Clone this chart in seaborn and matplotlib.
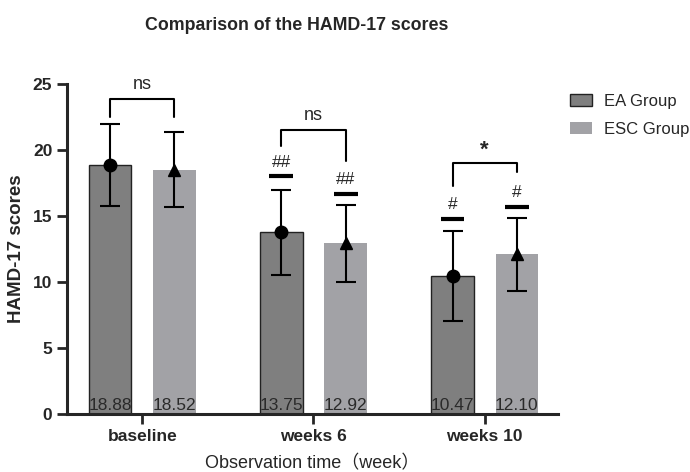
import pandas as pd
import matplotlib.pyplot as plt
import seaborn as sns
from matplotlib.patches import Patch

# HAMD-17 scores, mean and SD
timepoints = ['baseline', 'weeks 6', 'weeks 10']
groups = ['EA Group', 'ESC Group']
ea_mean = [18.88, 13.75, 10.47]
esc_mean = [18.52, 12.92, 12.10]
ea_sd = [3.10, 3.25, 3.40]
esc_sd = [2.85, 2.90, 2.75]

# within-group marks (#) : level of the short bar, label
ea_hash_y = [None, 18.0, 14.8]
esc_hash_y = [None, 16.7, 15.7]
ea_hash = ['', '##', '#']
esc_hash = ['', '##', '#']

# between-group brackets: top, left leg end, right leg end, label
br_top = [23.9, 21.5, 19.0]
br_left = [22.5, 20.3, 17.3]
br_right = [22.5, 19.2, 18.35]
br_text = ['ns', 'ns', '*']

colors = {'EA Group': '#7f7f7f', 'ESC Group': '#a2a2a6'}

df = pd.DataFrame({
    'time': timepoints * 2,
    'group': [groups[0]] * 3 + [groups[1]] * 3,
    'score': ea_mean + esc_mean,
})

sns.set_style('ticks')
plt.rcParams['font.family'] = ['Liberation Sans', 'Noto Sans CJK SC', 'DejaVu Sans']

fig = plt.figure(figsize=(6.9, 4.72), dpi=100)
ax = fig.add_axes([0.097, 0.123, 0.712, 0.699])

sns.barplot(data=df, x='time', y='score', hue='group', palette=colors,
            width=0.75, gap=0.34, errorbar=None, legend=False, ax=ax,
            saturation=1)

bars = ax.patches[:6]
for b in bars[:3]:
    b.set_edgecolor('#222222')
    b.set_linewidth(1.0)
for b in bars[3:]:
    b.set_edgecolor('none')

ea_x = [b.get_x() + b.get_width() / 2 for b in bars[:3]]
esc_x = [b.get_x() + b.get_width() / 2 for b in bars[3:]]

ax.errorbar(ea_x, ea_mean, yerr=ea_sd, fmt='o', color='black', ms=9,
            capsize=7, elinewidth=1.5, capthick=1.5, zorder=5)
ax.errorbar(esc_x, esc_mean, yerr=esc_sd, fmt='^', color='black', ms=9,
            capsize=7, elinewidth=1.5, capthick=1.5, zorder=5)

# value labels at the bottom of each bar
for x, v in zip(ea_x + esc_x, ea_mean + esc_mean):
    ax.text(x, 0.1, f'{v:.2f}', ha='center', va='bottom', fontsize=12.5,
            color='#2a2a2a', zorder=6)

# hash marks
for xs, ys, labels in [(ea_x, ea_hash_y, ea_hash), (esc_x, esc_hash_y, esc_hash)]:
    for x, y, lab in zip(xs, ys, labels):
        if y is None:
            continue
        ax.plot([x - 0.07, x + 0.07], [y, y], color='black', lw=3,
                solid_capstyle='butt', zorder=6)
        ax.text(x, y + 0.5, lab, ha='center', va='bottom', fontsize=12.5)

# brackets
for i in range(3):
    x1, x2 = ea_x[i], esc_x[i]
    ax.plot([x1, x1, x2, x2], [br_left[i], br_top[i], br_top[i], br_right[i]],
            color='black', lw=1.5, clip_on=False, zorder=6)
    star = br_text[i] == '*'
    ax.text((x1 + x2) / 2, br_top[i] + (0.2 if star else 0.45), br_text[i],
            ha='center', va='bottom', fontsize=16 if star else 13,
            fontweight='bold' if star else 'normal', clip_on=False)

ax.set_ylim(0, 25)
ax.set_xlim(-0.44, 2.43)
ax.set_yticks([0, 5, 10, 15, 20, 25])
sns.despine(ax=ax)
for s in ['left', 'bottom']:
    ax.spines[s].set_linewidth(2.2)
ax.tick_params(axis='both', width=2, length=7, labelsize=12.5)
for lab in ax.get_xticklabels() + ax.get_yticklabels():
    lab.set_fontweight('bold')

ax.set_ylabel('HAMD-17 scores', fontsize=13.5, fontweight='bold', labelpad=6)
ax.set_xlabel('Observation time（week）', fontsize=13, labelpad=8)
fig.suptitle('Comparison of the HAMD-17 scores', x=0.43, y=0.965,
             fontsize=12.8, fontweight='bold')

handles = [Patch(facecolor=colors['EA Group'], edgecolor='#222222', lw=1.0),
           Patch(facecolor=colors['ESC Group'], edgecolor='none')]
ax.legend(handles, groups, loc='upper left', bbox_to_anchor=(1.024, 0.97),
          frameon=False, fontsize=12, handlelength=1.3, handleheight=0.75,
          handletextpad=0.75, labelspacing=0.78, borderpad=0, borderaxespad=0)

fig.savefig('out.png', dpi=100)
